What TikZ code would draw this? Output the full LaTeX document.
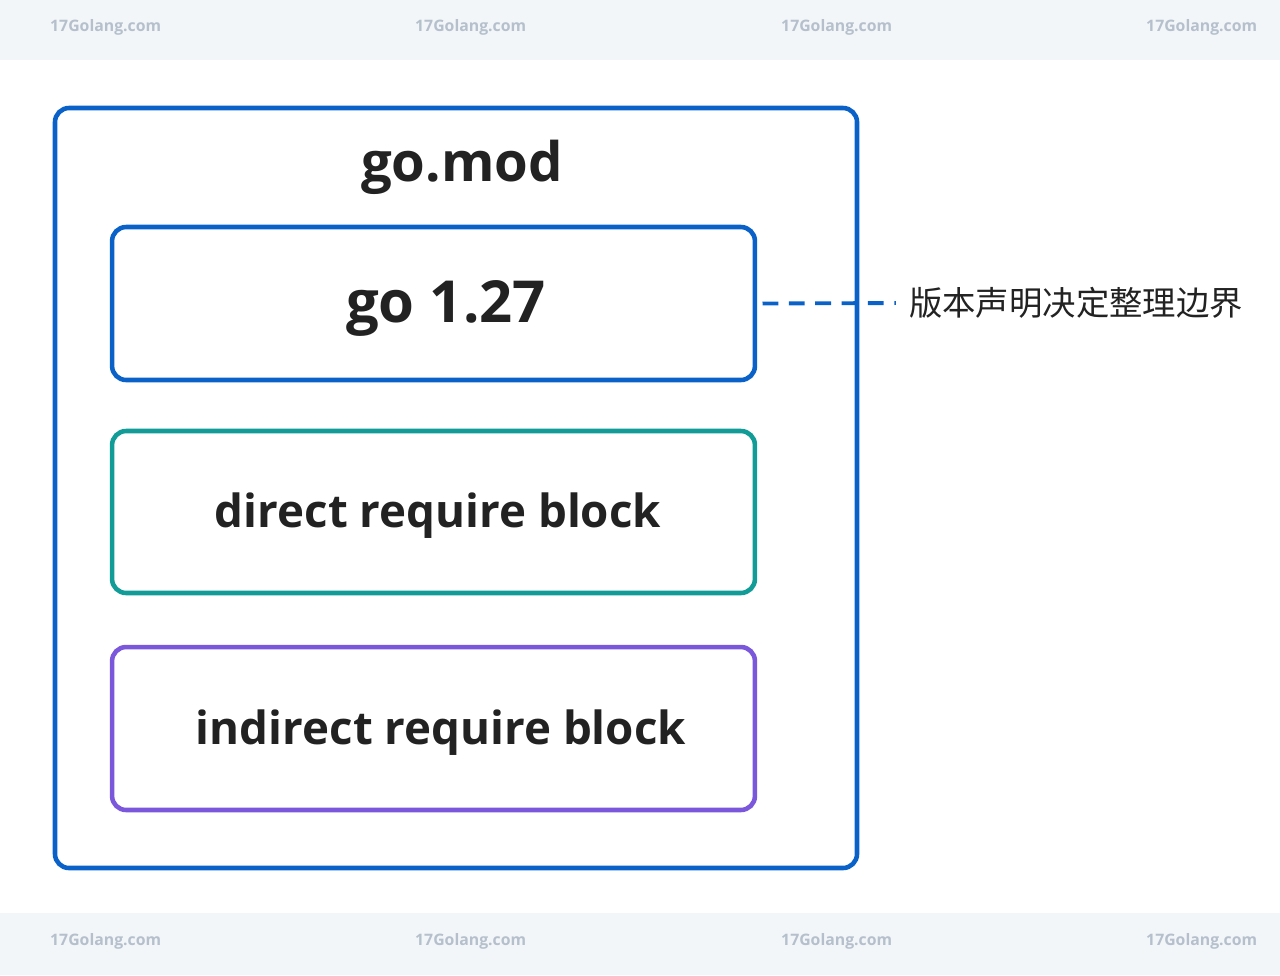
\documentclass[tikz,border=0pt]{standalone}
\usepackage{fontspec}
\setmainfont{Open Sans}
\newfontfamily\cjk{Noto Sans CJK SC}
\definecolor{outerblue}{HTML}{0A62C9}
\definecolor{tealline}{HTML}{119C98}
\definecolor{purpline}{HTML}{7B57DB}
\definecolor{inktext}{HTML}{222222}
\definecolor{bandgray}{HTML}{F3F6F9}
\definecolor{markgray}{HTML}{B5C0CC}
\begin{document}
\begin{tikzpicture}[x=0.02cm,y=-0.02cm,
	block/.style={draw,line width=2.6pt,rounded corners=8pt,minimum width=12.86cm,inner sep=0pt},
	label/.style={font=\bfseries\fontsize{26}{30}\selectfont,text=inktext}]
    % page and watermark bands
    \useasboundingbox (0,0) rectangle (1280,975);
    \fill[bandgray] (0,0) rectangle (1280,60);
    \fill[bandgray] (0,913) rectangle (1280,975);
    \foreach \x in {44,409,775,1140}{
        \node[anchor=west,text=markgray,font=\bfseries\small] (wt-\x) at (\x,27) {17Golang.com};
        \node[anchor=west,text=markgray,font=\bfseries\small] (wb-\x) at (\x,941) {17Golang.com};
    }

    % outer go.mod box
    \draw[block,outerblue] (55,108) rectangle (857,868);
    \node[label,font=\bfseries\fontsize{31}{36}\selectfont] (title) at (462,167) {go.mod};

    % inner blocks
    \node[block,outerblue,minimum height=3.06cm] (ver) at (433.5,303.5) {};
    \node[label,font=\bfseries\fontsize{33}{38}\selectfont] (vertext) at (446,308) {go 1.27};
    \node[block,tealline,minimum height=3.24cm] (direct) at (433.5,512) {};
    \node[label] at (438,516) {direct require block};
    \node[block,purpline,minimum height=3.26cm] (indirect) at (433.5,728.5) {};
    \node[label] at (441,733) {indirect require block};

    % annotation
    \node[anchor=west,font=\cjk\fontsize{19}{22}\selectfont,text=inktext] (note) at (903,303) {版本声明决定整理边界};
    \draw[outerblue,line width=2.2pt,dash pattern=on 9pt off 6pt,shorten <=3pt,shorten >=4pt] (ver.east) -- (note.west);
\end{tikzpicture}
\end{document}
